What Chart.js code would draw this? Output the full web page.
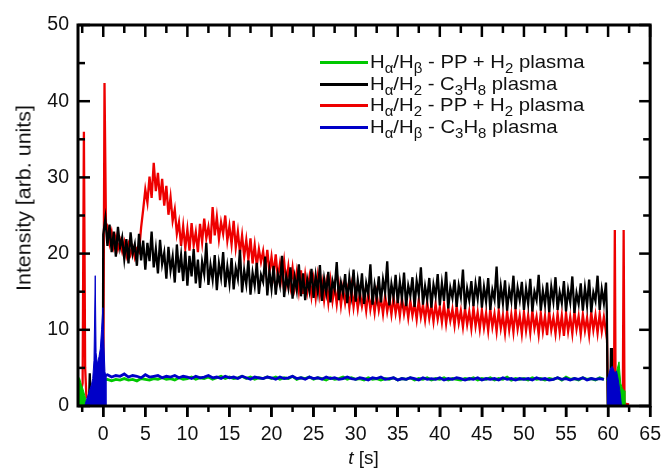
<!DOCTYPE html>
<html>
<head>
<meta charset="utf-8">
<script src="https://cdn.jsdelivr.net/npm/chart.js@4.4.1/dist/chart.umd.min.js"></script>
<style>
  body { margin: 0; background: #fff; }
  #wrap { position: relative; width: 667px; height: 469px; font-family: 'Liberation Sans', Arial, sans-serif; color: #111; }
  #chart { position: absolute; left: 0; top: 0; }
  .legend { position: absolute; left: 320px; top: 51px; }
  .row { position: relative; height: 21.5px; width: 300px; white-space: nowrap; }
  .row .swatch { position: absolute; left: 0; top: 10px; width: 48px; height: 3px; }
  .row .txt { position: absolute; left: 50px; top: 0; font-size: 19px; line-height: 21.5px; transform-origin: left center; transform: scaleX(1.07); }
  sub { font-size: 14px; vertical-align: -5px; line-height: 0; }
  #xtitle { position: absolute; left: 78px; width: 571px; top: 447px; text-align: center; font-size: 19px; line-height: 22px; }
  #ytitle { position: absolute; left: 24px; top: 198px; font-size: 19.5px; white-space: nowrap; transform: translate(-50%, -50%) rotate(-90deg) scaleX(1.1); }
</style>
</head>
<body>
<div id="wrap">
  <canvas id="chart" width="667" height="469"></canvas>
  <div class="legend" id="legend"></div>
  <div id="xtitle"><i>t</i> [s]</div>
  <div id="ytitle">Intensity [arb. units]</div>
</div>
<script>
// Eixos
const X_MIN = -3, X_MAX = 65;
const Y_MIN = 0, Y_MAX = 50;
const X_TICKS = [0, 5, 10, 15, 20, 25, 30, 35, 40, 45, 50, 55, 60, 65];
const Y_TICKS = [0, 10, 20, 30, 40, 50];

// Legenda (na ordem do gráfico original)
const LABELS = [
  'Hα/Hβ - PP + H2 plasma',
  'Hα/H2 - C3H8 plasma',
  'Hα/H2 - PP + H2 plasma',
  'Hα/Hβ - C3H8 plasma'
];
const LABELS_HTML = [
  'H<sub>α</sub>/H<sub>β</sub> - PP + H<sub>2</sub> plasma',
  'H<sub>α</sub>/H<sub>2</sub> - C<sub>3</sub>H<sub>8</sub> plasma',
  'H<sub>α</sub>/H<sub>2</sub> - PP + H<sub>2</sub> plasma',
  'H<sub>α</sub>/H<sub>β</sub> - C<sub>3</sub>H<sub>8</sub> plasma'
];
const COLORS = ['#00c800', '#000000', '#ee0000', '#0000c8'];

// Hα/H2 - C3H8 : pontos a cada 0.25 s a partir de t = 0
const BLACK_STEP = 0.25;
const blackPre = [[-3, 0.2], [-1.7, 0.3], [-1.6, 4.3], [-1.5, 0.4], [-0.7, 0.4], [-0.6, 2.2], [-0.5, 0.3], [-0.05, 0.3]];
const blackMain = [
  22.5, 24.6, 21.0, 23.8, 20.2, 22.9, 19.6, 23.5, 20.8, 22.1, 19.3, 21.9, 18.7, 22.8, 20.0, 21.2, 18.4, 22.6, 19.1, 21.7,
  17.9, 21.4, 19.0, 22.9, 18.2, 20.6, 17.4, 21.8, 18.6, 20.1, 16.7, 20.9, 17.8, 19.6, 16.2, 21.2, 17.5, 19.8, 16.4, 20.3,
  15.8, 19.7, 17.0, 20.6, 16.1, 19.2, 15.5, 18.9, 17.3, 21.4, 15.9, 18.5, 16.6, 19.8, 15.2, 18.7, 16.9, 20.2, 15.6, 18.3,
  16.1, 19.4, 15.3, 18.1, 16.7, 20.5, 14.9, 17.8, 16.0, 19.1, 14.6, 17.5, 15.8, 18.8, 14.7, 17.2, 16.3, 19.6, 14.5, 17.7,
  15.4, 18.4, 14.6, 17.3, 15.9, 19.7, 14.3, 17.0, 15.5, 18.2, 14.1, 16.9, 15.2, 18.6, 14.4, 17.4, 13.9, 16.6, 15.1, 18.0,
  14.2, 17.1, 15.0, 18.5, 13.8, 16.7, 14.9, 17.6, 13.6, 16.4, 15.3, 18.9, 13.9, 16.2, 14.8, 17.3, 13.5, 16.8, 14.6, 17.9,
  13.7, 16.5, 14.4, 17.4, 13.4, 16.1, 14.7, 18.6, 13.3, 15.9, 14.2, 17.0, 13.6, 16.6, 14.9, 19.0, 13.2, 16.0, 14.3, 17.2,
  13.5, 16.3, 14.1, 17.5, 13.1, 15.8, 14.5, 16.9, 13.0, 16.4, 14.6, 18.2, 13.3, 15.7, 14.0, 16.8, 12.9, 15.9, 14.4, 17.3,
  13.2, 16.1, 13.8, 17.6, 12.8, 15.5, 14.2, 16.6, 13.0, 15.8, 14.3, 17.9, 12.7, 15.4, 13.9, 16.4, 13.1, 16.0, 14.1, 17.0,
  12.9, 15.6, 13.7, 16.8, 12.6, 15.2, 14.0, 18.3, 12.8, 15.7, 13.5, 16.5, 12.5, 15.3, 13.8, 17.1, 12.7, 15.5, 13.9, 16.3,
  12.6, 15.4, 13.4, 16.7, 12.4, 15.0, 13.9, 17.2, 12.5, 15.1, 13.3, 16.2, 12.3, 15.6, 13.7, 16.9, 12.6, 14.9, 13.5, 16.4,
  12.4, 15.2, 13.6, 17.0, 12.2, 14.8, 13.4, 16.1, 12.5, 15.5, 13.2, 16.6, 12.3, 14.9, 13.8, 17.1, 12.6, 15.3, 13.5, 16.2
];
const blackPost = [[59.85, 12.5], [59.95, 0.4], [60.25, 0.6], [60.35, 7.6], [60.45, 0.4], [60.9, 1.5], [61.1, 0.2], [62, 0.2]];

// Hα/H2 - PP + H2 : pontos a cada 0.25 s a partir de t = 0.5
const RED_STEP = 0.25;
const redPre = [[-3, 1.5], [-2.6, 2.2], [-2.45, 3.0], [-2.3, 36.0], [-2.15, 5.0], [-2.0, 1.2], [-1.5, 0.8], [-0.8, 0.8], [-0.1, 1.0], [0.0, 1.2], [0.15, 42.4], [0.32, 24.0]];
const redMain = [
  23.6, 21.4, 22.8, 20.9, 22.2, 20.6, 21.7, 20.3, 21.5, 19.8, 21.2, 19.9, 20.8, 19.5, 20.6, 20.2, 23.4, 25.8,
  28.4, 26.7, 30.1, 27.3, 31.9, 28.2, 30.6, 27.0, 29.8, 26.3, 28.9, 25.1, 27.4, 24.3, 25.8, 22.6, 24.1, 21.0, 23.6, 20.7,
  23.2, 20.4, 24.0, 21.1, 22.8, 20.2, 23.9, 21.5, 24.6, 22.0, 23.5, 21.3, 26.1, 22.4, 24.8, 21.9, 24.1, 22.6, 25.0, 21.7,
  23.6, 21.2, 24.3, 20.8, 22.9, 20.1, 22.4, 19.6, 21.8, 19.2, 22.0, 18.7, 21.1, 18.4, 20.6, 18.9, 20.3, 17.9, 20.5, 17.5,
  19.6, 17.3, 19.9, 16.8, 18.7, 16.5, 19.0, 16.2, 18.3, 15.8, 18.1, 15.6, 17.6, 15.1, 17.8, 14.7, 17.2, 15.0, 16.9, 14.4,
  16.6, 14.2, 17.0, 14.5, 16.3, 13.9, 16.1, 13.6, 16.4, 13.8, 15.7, 13.4, 15.9, 13.2, 15.5, 13.5, 15.2, 12.9, 15.6, 13.0,
  15.1, 12.8, 14.9, 13.1, 14.6, 12.5, 15.0, 12.7, 14.4, 12.3, 14.7, 12.6, 14.2, 12.1, 14.5, 12.4, 14.0, 12.0, 14.3, 12.2,
  13.9, 11.8, 14.2, 12.1, 13.7, 11.6, 13.8, 11.9, 13.5, 11.4, 13.9, 11.7, 13.3, 11.3, 13.6, 11.5, 13.2, 11.1, 13.4, 11.4,
  13.0, 11.0, 13.3, 10.8, 12.9, 11.2, 12.7, 10.6, 13.1, 10.9, 12.5, 10.4, 12.8, 10.7, 12.4, 10.2, 12.9, 10.5, 12.3, 10.1,
  12.6, 10.3, 12.2, 9.9, 12.7, 10.4, 12.1, 9.8, 12.5, 10.2, 11.9, 9.6, 12.4, 10.0, 12.0, 9.7, 12.6, 10.1, 11.8, 9.5,
  12.3, 9.9, 11.9, 9.6, 12.5, 10.2, 11.7, 9.4, 12.2, 9.8, 11.8, 9.3, 12.4, 10.0, 11.6, 9.5, 12.1, 9.7, 11.9, 9.2,
  12.2, 9.8, 11.7, 9.5, 12.4, 10.1, 11.8, 9.4, 12.0, 9.9, 11.6, 9.3, 12.3, 10.0, 11.9, 9.6, 12.1, 9.8, 11.7, 9.7
];
const redPost = [[59.85, 10.6], [60.0, 0.4], [60.7, 0.5], [60.8, 23.1], [60.9, 0.5], [61.75, 0.5], [61.85, 23.1], [61.95, 0.3], [62.5, 0.2]];

// Hα/Hβ : pontos a cada 0.5 s a partir de t = 0
const RATIO_STEP = 0.5;
const greenMain = [
  3.4, 3.5, 3.3, 3.5, 3.4, 3.6, 3.4, 3.5, 3.3, 3.6, 3.5, 3.4, 3.6, 3.5, 3.7, 3.5, 3.6, 3.4, 3.7, 3.5,
  3.6, 3.8, 3.5, 3.7, 3.6, 3.8, 3.5, 3.7, 3.9, 3.6, 3.8, 3.6, 3.7, 3.9, 3.6, 3.8, 3.5, 3.7, 3.6, 3.8,
  3.6, 3.8, 3.5, 3.7, 3.6, 3.9, 3.5, 3.7, 3.6, 3.8, 3.5, 3.7, 3.6, 3.4, 3.7, 3.5, 3.6, 3.8, 3.5, 3.7,
  3.5, 3.6, 3.4, 3.7, 3.5, 3.6, 3.4, 3.6, 3.5, 3.7, 3.4, 3.6, 3.5, 3.7, 3.4, 3.6, 3.5, 3.7, 3.4, 3.6,
  3.5, 3.7, 3.4, 3.6, 3.5, 3.4, 3.6, 3.5, 3.7, 3.4, 3.6, 3.5, 3.7, 3.4, 3.6, 3.5, 3.8, 3.4, 3.6, 3.5,
  3.6, 3.4, 3.7, 3.5, 3.6, 3.4, 3.6, 3.5, 3.7, 3.4, 3.8, 3.5, 3.6, 3.4, 3.7, 3.5, 3.6, 3.4, 3.7, 3.5
];
const blueMain = [
  3.9, 4.1, 3.8, 4.0, 3.9, 4.2, 3.8, 4.0, 3.9, 3.7, 4.1, 3.8, 3.9, 4.0, 3.7, 3.9, 3.8, 4.0, 3.7, 3.9,
  3.8, 3.6, 3.9, 3.7, 3.8, 4.0, 3.7, 3.8, 3.6, 3.9, 3.7, 3.8, 3.6, 3.9, 3.7, 3.5, 3.8, 3.7, 3.6, 3.8,
  3.7, 3.5, 3.8, 3.6, 3.7, 3.9, 3.6, 3.7, 3.5, 3.8, 3.6, 3.7, 3.5, 3.8, 3.6, 3.7, 3.5, 3.6, 3.8, 3.6,
  3.5, 3.7, 3.6, 3.4, 3.7, 3.6, 3.8, 3.5, 3.6, 3.7, 3.4, 3.6, 3.5, 3.7, 3.6, 3.4, 3.7, 3.5, 3.6, 3.5,
  3.7, 3.4, 3.6, 3.5, 3.7, 3.6, 3.4, 3.6, 3.5, 3.7, 3.4, 3.6, 3.5, 3.6, 3.4, 3.7, 3.5, 3.6, 3.4, 3.6,
  3.5, 3.6, 3.4, 3.7, 3.5, 3.6, 3.4, 3.5, 3.7, 3.5, 3.6, 3.4, 3.6, 3.5, 3.7, 3.4, 3.6, 3.5, 3.6, 3.5
];
// rajadas densas antes/depois do plasma (envelope preenchido)
const greenBurstPre = [[-3, 3.9], [-2.8, 3.6], [-2.6, 2.8], [-2.4, 2.2], [-2.2, 1.4], [-2.0, 0.6], [-1.9, 0], [0, 0], [0.02, 3.4]];
const greenBurstPost = [[59.85, 3.4], [60.0, 3.0], [60.5, 4.0], [61.0, 4.5], [61.3, 5.8], [61.5, 3.0], [61.7, 2.3], [61.9, 2.0], [62.0, 0]];
const blueBurstPre = [[-2.2, 0], [-2.0, 0.8], [-1.7, 1.8], [-1.4, 2.8], [-1.25, 3.6], [-1.1, 6.0], [-0.95, 17.1], [-0.85, 7.0], [-0.7, 5.5], [-0.5, 6.5], [-0.35, 7.5], [-0.2, 10.0], [-0.05, 12.9], [0.05, 9.0], [0.2, 4.5], [0.3, 4.0], [0.32, 0]];
const blueBurstPost = [[59.85, 3.5], [60.0, 3.8], [60.3, 5.0], [60.5, 5.2], [60.8, 4.3], [61.0, 4.6], [61.2, 3.5], [61.4, 2.0], [61.6, 0]];

const FONT = "'Liberation Sans', Arial, sans-serif";

function fromStep(start, step, values) {
  return values.map((v, i) => ({ x: +(start + i * step).toFixed(3), y: v }));
}
function fromPairs(list) {
  return list.map(([x, y]) => ({ x, y }));
}

const blackData = [...fromPairs(blackPre), ...fromStep(0, BLACK_STEP, blackMain), ...fromPairs(blackPost)];
const redData = [...fromPairs(redPre), ...fromStep(0.5, RED_STEP, redMain), ...fromPairs(redPost)];

function lineSet(label, color, data, width, order) {
  return { label, data, borderColor: color, backgroundColor: color, borderWidth: width, fill: false, order };
}
function burstSet(color, data, order) {
  return { label: '', data, borderColor: color, backgroundColor: color, borderWidth: 1, fill: 'origin', order };
}

// order menor = desenhado por cima
const datasets = [
  lineSet(LABELS[0], COLORS[0], fromStep(0, RATIO_STEP, greenMain), 2.8, 2),
  lineSet(LABELS[1], COLORS[1], blackData, 2.3, 4),
  lineSet(LABELS[2], COLORS[2], redData, 2.3, 5),
  lineSet(LABELS[3], COLORS[3], fromStep(0, RATIO_STEP, blueMain), 2.8, 0),
  burstSet(COLORS[0], fromPairs(greenBurstPre), 3),
  burstSet(COLORS[0], fromPairs(greenBurstPost), 3),
  burstSet(COLORS[3], fromPairs(blueBurstPre), 1),
  burstSet(COLORS[3], fromPairs(blueBurstPost), 1)
];

// pixel de um valor pela escala (com recurso linear se a escala não responder)
function pix(scale, v, lo, hi, p0, p1) {
  const p = scale.getPixelForValue(v);
  return Number.isFinite(p) ? p : p0 + (v - lo) / (hi - lo) * (p1 - p0);
}

// Moldura com ticks maiores/menores (dentro em cima/esquerda/direita, fora embaixo)
const framePlugin = {
  id: 'frame',
  afterDraw(chart) {
    const ctx = chart.ctx;
    const a = chart.chartArea;
    const sx = chart.scales.x;
    const sy = chart.scales.y;
    const W = 2.5;
    ctx.save();
    ctx.fillStyle = '#000';
    for (let i = 0; i < X_TICKS.length; i++) {
      const v = X_TICKS[i];
      const marks = [[v, 11, 12], [v + 2.5, 6, 8]];
      if (i === 0) marks.push([v - 2.5, 6, 8]);
      for (const [t, down, inTop] of marks) {
        if (t < X_MIN || t > X_MAX) continue;
        const px = pix(sx, t, X_MIN, X_MAX, a.left, a.right);
        ctx.fillRect(px - W / 2, a.bottom, W, down);
        ctx.fillRect(px - W / 2, a.top, W, inTop);
      }
    }
    for (let i = 0; i < Y_TICKS.length; i++) {
      const v = Y_TICKS[i];
      for (const [t, lenL, lenR] of [[v, 12, 11], [v + 5, 7, 7]]) {
        if (t < Y_MIN || t > Y_MAX) continue;
        const py = pix(sy, t, Y_MIN, Y_MAX, a.bottom, a.top);
        ctx.fillRect(a.left, py - W / 2, lenL, W);
        ctx.fillRect(a.right - lenR, py - W / 2, lenR, W);
      }
    }
    ctx.strokeStyle = '#000';
    ctx.lineWidth = 3;
    ctx.strokeRect(a.left, a.top, a.right - a.left, a.bottom - a.top);
    ctx.restore();
  }
};

new Chart(document.getElementById('chart'), {
  type: 'line',
  data: { datasets },
  options: {
    responsive: false,
    animation: false,
    layout: { padding: { top: 25, right: 8, left: 0, bottom: 0 } },
    elements: { point: { radius: 0 }, line: { tension: 0 } },
    plugins: { legend: { display: false }, tooltip: { enabled: false } },
    scales: {
      x: {
        type: 'linear', min: X_MIN, max: X_MAX,
        grid: { display: true, drawOnChartArea: false, drawTicks: true, tickLength: 11, lineWidth: 2.5, color: '#000' },
        border: { display: false },
        ticks: { font: { family: FONT, size: 19.5 }, color: '#111', padding: 6, maxRotation: 0, autoSkip: false },
        afterBuildTicks: s => { s.ticks = X_TICKS.map(v => ({ value: v })); },
        afterFit: s => { s.height = 63; }
      },
      y: {
        type: 'linear', min: Y_MIN, max: Y_MAX,
        grid: { display: false, drawTicks: false },
        border: { display: false },
        ticks: { font: { family: FONT, size: 19.5 }, color: '#111', padding: 9, autoSkip: false },
        afterBuildTicks: s => { s.ticks = Y_TICKS.map(v => ({ value: v })); },
        afterFit: s => { s.width = 78; }
      }
    }
  },
  plugins: [framePlugin]
});

// Legenda em HTML (para os subscritos)
document.getElementById('legend').innerHTML = LABELS_HTML.map((html, i) =>
  `<div class="row"><span class="swatch" style="background:${COLORS[i]}"></span><span class="txt">${html}</span></div>`
).join('');
</script>
</body>
</html>
